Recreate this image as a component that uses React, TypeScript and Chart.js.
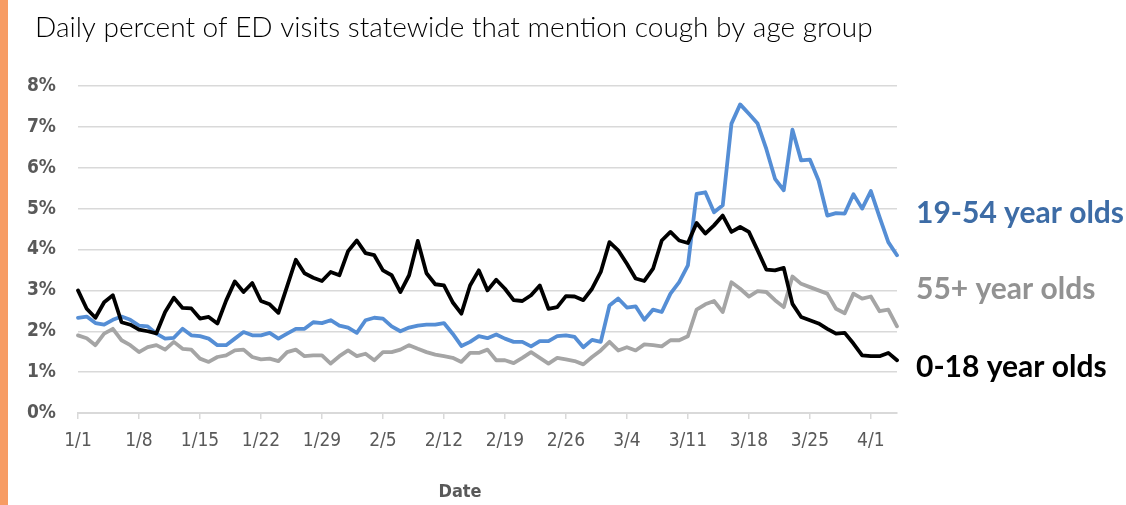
import React, { useEffect, useRef } from "react";
import { Chart, registerables } from "chart.js";

Chart.register(...registerables);

const MONTH_DAYS = [31, 29, 31, 30];
const START_MONTHS = [1, 2, 3, 4];
const N_DAYS = 95;

const DATES: string[] = (() => {
  const out: string[] = [];
  for (let m = 0; m < START_MONTHS.length && out.length < N_DAYS; m++) {
    for (let d = 1; d <= MONTH_DAYS[m] && out.length < N_DAYS; d++) {
      out.push(`${START_MONTHS[m]}/${d}`);
    }
  }
  return out;
})();

const TICK_LABELS = ["1/1", "1/8", "1/15", "1/22", "1/29", "2/5", "2/12", "2/19", "2/26", "3/4", "3/11", "3/18", "3/25", "4/1"];

const AGE_0_18 = [
  3.0, 2.55, 2.33, 2.71, 2.88, 2.22, 2.16, 2.04, 2.0, 1.95,
  2.47, 2.82, 2.57, 2.56, 2.31, 2.35, 2.19, 2.75, 3.22, 2.96,
  3.18, 2.74, 2.66, 2.45, 3.1, 3.75, 3.42, 3.31, 3.23, 3.45,
  3.37, 3.96, 4.22, 3.91, 3.86, 3.49, 3.37, 2.96, 3.37, 4.21,
  3.42, 3.15, 3.12, 2.71, 2.43, 3.12, 3.49, 3.0, 3.26, 3.04,
  2.76, 2.74, 2.88, 3.12, 2.55, 2.59, 2.86, 2.85, 2.76, 3.04,
  3.45, 4.18, 3.98, 3.65, 3.29, 3.23, 3.53, 4.22, 4.43, 4.22,
  4.16, 4.65, 4.39, 4.59, 4.83, 4.43, 4.55, 4.43, 3.98, 3.51,
  3.49, 3.55, 2.67, 2.35, 2.27, 2.19, 2.06, 1.94, 1.96, 1.7,
  1.41, 1.39, 1.39, 1.47, 1.29,
];

const AGE_19_54 = [
  2.33, 2.36, 2.2, 2.16, 2.28, 2.36, 2.28, 2.14, 2.12, 1.94,
  1.82, 1.84, 2.06, 1.9, 1.88, 1.82, 1.66, 1.66, 1.82, 1.98,
  1.9, 1.9, 1.96, 1.82, 1.94, 2.06, 2.06, 2.22, 2.2, 2.27,
  2.14, 2.09, 1.96, 2.27, 2.33, 2.31, 2.12, 2.0, 2.09, 2.14,
  2.16, 2.16, 2.2, 1.94, 1.64, 1.74, 1.88, 1.83, 1.92, 1.82,
  1.74, 1.74, 1.63, 1.76, 1.76, 1.88, 1.9, 1.86, 1.61, 1.79,
  1.74, 2.63, 2.8, 2.58, 2.61, 2.28, 2.53, 2.47, 2.92, 3.2,
  3.61, 5.36, 5.4, 4.91, 5.08, 7.08, 7.55, 7.32, 7.08, 6.46,
  5.73, 5.45, 6.93, 6.18, 6.2, 5.69, 4.83, 4.89, 4.88, 5.35,
  5.0, 5.43, 4.79, 4.18, 3.86,
];

const AGE_55_PLUS = [
  1.9, 1.83, 1.66, 1.94, 2.06, 1.78, 1.66, 1.49, 1.61, 1.66,
  1.55, 1.74, 1.57, 1.55, 1.33, 1.25, 1.37, 1.41, 1.53, 1.55,
  1.37, 1.31, 1.33, 1.27, 1.49, 1.55, 1.39, 1.41, 1.41, 1.21,
  1.39, 1.53, 1.39, 1.45, 1.29, 1.49, 1.49, 1.55, 1.66, 1.57,
  1.49, 1.43, 1.39, 1.35, 1.25, 1.47, 1.47, 1.55, 1.29, 1.29,
  1.22, 1.35, 1.49, 1.35, 1.21, 1.35, 1.31, 1.27, 1.19, 1.37,
  1.53, 1.74, 1.53, 1.61, 1.53, 1.68, 1.66, 1.63, 1.78, 1.78,
  1.88, 2.53, 2.66, 2.74, 2.47, 3.2, 3.04, 2.85, 2.98, 2.96,
  2.76, 2.59, 3.34, 3.16, 3.08, 3.0, 2.92, 2.55, 2.44, 2.92,
  2.8, 2.85, 2.49, 2.53, 2.12,
];

const SERIES_NAMES = ["19-54 year olds", "55+ year olds", "0-18 year olds"];
const TITLE = "Daily percent of ED visits statewide that mention cough by age group";
const X_TITLE = "Date";

const COND = "'Liberation Sans Narrow', 'DejaVu Sans Condensed', 'Roboto', sans-serif";

const annotations = {
  id: "annotations",
  beforeDraw(chart: any) {
    const { ctx } = chart;
    ctx.save();
    ctx.fillStyle = "#ffffff";
    ctx.fillRect(0, 0, chart.width, chart.height);
    ctx.fillStyle = "#F79C64";
    ctx.fillRect(0, 0, 8, chart.height);
    ctx.restore();
  },
  afterDraw(chart: any) {
    const { ctx } = chart;
    ctx.save();
    ctx.textBaseline = "middle";
    ctx.textAlign = "left";
    ctx.fillStyle = "#000000";
    ctx.font = "300 28px Lato, 'Open Sans', sans-serif";
    ctx.fillText(TITLE, 35, 28);

    ctx.font = "bold 30px Lato, 'Open Sans', sans-serif";
    const colors = ["#3D6CA6", "#929292", "#000000"];
    const ys = [213, 289, 367];
    SERIES_NAMES.forEach((n, i) => {
      ctx.fillStyle = colors[i];
      ctx.fillText(n, 916, ys[i]);
    });

    ctx.textAlign = "center";
    ctx.fillStyle = "#595959";
    ctx.font = `bold 18px ${COND}`;
    ctx.fillText(X_TITLE, 460, 492);
    ctx.restore();
  },
};

export default function App() {
  const ref = useRef<HTMLCanvasElement | null>(null);

  useEffect(() => {
    document.body.style.margin = "0";
    const canvas = ref.current;
    if (!canvas) return;
    const chart = new Chart(canvas, {
      type: "line",
      data: {
        labels: DATES,
        datasets: [
          {
            label: SERIES_NAMES[2],
            data: AGE_0_18,
            borderColor: "#000000",
            order: 0,
          },
          {
            label: SERIES_NAMES[0],
            data: AGE_19_54,
            borderColor: "#558ED5",
            order: 1,
          },
          {
            label: SERIES_NAMES[1],
            data: AGE_55_PLUS,
            borderColor: "#A5A5A5",
            order: 2,
          },
        ].map((d) => ({
          ...d,
          borderWidth: 3.8,
          pointRadius: 0,
          tension: 0,
          fill: false,
          borderJoinStyle: "round" as const,
          borderCapStyle: "round" as const,
        })),
      },
      options: {
        animation: false,
        responsive: true,
        maintainAspectRatio: false,
        layout: { padding: { left: 0, right: 229, top: 86, bottom: 0 } },
        plugins: {
          legend: { display: false },
          tooltip: { enabled: false },
          title: { display: false },
        },
        scales: {
          x: {
            type: "category",
            offset: false,
            afterFit: (s: any) => {
              s.height = 92;
            },
            grid: {
              drawOnChartArea: false,
              drawTicks: true,
              tickLength: 6,
              color: "#D9D9D9",
              lineWidth: 1.5,
            },
            border: { display: true, color: "#D9D9D9", width: 2 },
            ticks: {
              autoSkip: false,
              maxRotation: 0,
              minRotation: 0,
              padding: 11,
              color: "#595959",
              font: { family: COND, size: 19 },
              callback: (_v: any, i: number) => (TICK_LABELS.includes(DATES[i]) ? DATES[i] : null),
            },
          },
          y: {
            min: 0,
            max: 8,
            afterFit: (s: any) => {
              s.width = 78;
            },
            grid: { color: "#D9D9D9", lineWidth: 1.5, drawTicks: false },
            border: { display: false },
            ticks: {
              stepSize: 1,
              padding: 22,
              color: "#595959",
              font: { family: COND, size: 19, weight: "bold" },
              callback: (v: any) => `${v}%`,
            },
          },
        },
      },
      plugins: [annotations],
    });
    return () => chart.destroy();
  }, []);

  return (
    <div style={{ position: "relative", width: 1126, height: 505 }}>
      <canvas ref={ref} />
    </div>
  );
}
